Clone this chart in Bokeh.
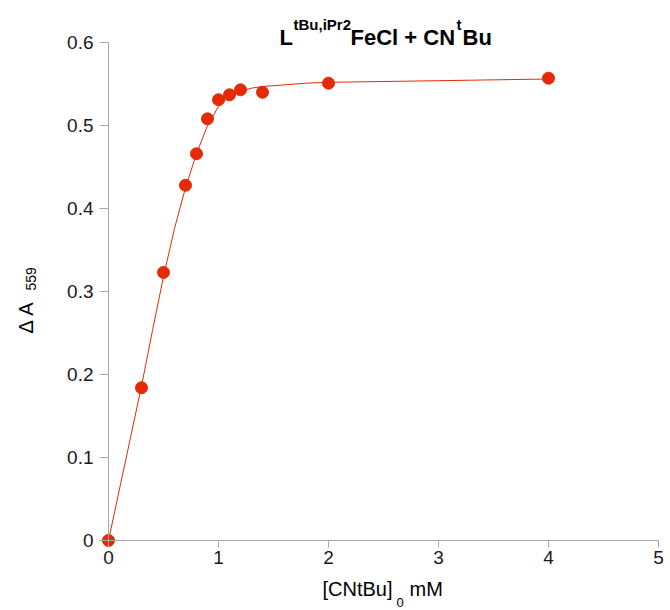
import math
from bokeh.plotting import figure
from bokeh.models import Range1d, Label, FixedTicker
from bokeh.embed import file_html
from bokeh.resources import INLINE

# Measured points
conc_mM = [0.0, 0.3, 0.5, 0.7, 0.8, 0.9, 1.0, 1.1, 1.2, 1.4, 2.0, 4.0]
delta_A559 = [0.0, 0.184, 0.323, 0.428, 0.466, 0.508, 0.531, 0.537, 0.543, 0.540, 0.551, 0.557]

# Fitted curve
fit_x = [0.0, 0.1, 0.2, 0.3, 0.4, 0.5, 0.6, 0.7, 0.8, 0.9, 1.0, 1.1, 1.2, 1.3, 1.4,
         1.6, 1.8, 2.0, 2.5, 3.0, 3.5, 4.0]
fit_y = [0.0, 0.062, 0.124, 0.186, 0.253, 0.318, 0.376, 0.425, 0.466, 0.500, 0.523,
         0.535, 0.541, 0.545, 0.547, 0.549, 0.551, 0.552, 0.553, 0.554, 0.555, 0.556]

x_ticks = [0, 1, 2, 3, 4, 5]
y_ticks = [0, 0.1, 0.2, 0.3, 0.4, 0.5, 0.6]
y_tick_labels = ["0", "0.1", "0.2", "0.3", "0.4", "0.5", "0.6"]

RED = "#e42a06"
AX = "#a8a8a8"
FONT = "Liberation Sans"

W, H = 670, 610
# pixel geometry: x 0->108px, 5->658px ; y 0->540px, 0.6->42px
SX = 110.0
SY = 830.0
X0, Y0 = 108, 540


def dx(px):
    return (px - X0) / SX


def dy(py):
    return (Y0 - py) / SY


p = figure(width=W, height=H, output_backend="svg", toolbar_location=None,
           x_range=Range1d(dx(0), dx(W)), y_range=Range1d(dy(H), dy(0)),
           min_border_left=0, min_border_right=0, min_border_top=0,
           min_border_bottom=0, min_border=0)
p.outline_line_color = None
p.xgrid.visible = False
p.ygrid.visible = False
p.background_fill_color = "white"
p.border_fill_color = "white"

for ax in (p.xaxis, p.yaxis):
    ax.axis_line_color = AX
    ax.axis_line_width = 1
    ax.major_tick_line_color = AX
    ax.minor_tick_line_color = None
    ax.major_tick_in = 0
    ax.major_label_text_font = FONT
    ax.major_label_text_font_size = "19px"
    ax.major_label_text_color = "#1a1a1a"

p.xaxis.fixed_location = 0
p.yaxis.fixed_location = 0
p.xaxis.bounds = (0, 5)
p.yaxis.bounds = (0, 0.6)
p.xaxis.ticker = FixedTicker(ticks=x_ticks)
p.yaxis.ticker = FixedTicker(ticks=y_ticks)
p.yaxis.major_label_overrides = {t: s for t, s in zip(y_ticks, y_tick_labels)}
p.xaxis.major_tick_out = 7
p.yaxis.major_tick_out = 9
p.xaxis.major_label_standoff = 3
p.yaxis.major_label_standoff = 6

p.line(fit_x, fit_y, line_color=RED, line_width=1.0)
p.scatter(conc_mM, delta_A559, size=12, fill_color=RED, line_color=RED)


def lab(text, px, py, size, bold=False, angle=0.0):
    p.add_layout(Label(x=dx(px), y=dy(py), text=text, text_font=FONT,
                       text_font_size=size, text_color="black",
                       text_font_style="bold" if bold else "normal",
                       text_align="left", text_baseline="alphabetic",
                       angle=angle))


# Title
lab("L", 279, 37, "22px", bold=True)
lab("tBu,iPr2", 293, 24, "15px", bold=True)
lab("FeCl + CN", 350, 37, "22px", bold=True)
lab("t", 456, 24, "15px", bold=True)
lab("Bu", 462, 37, "22px", bold=True)

# X axis label
lab("[CNtBu]", 322, 588, "20px")
lab("0", 396, 602, "13px")
lab("mM", 409, 588, "20px")

# Y axis label
lab("\u0394 A", 25, 333, "20px", angle=math.pi / 2)
lab("559", 30, 290, "14px", angle=math.pi / 2)

open("out.html", "w").write(file_html(p, INLINE))
